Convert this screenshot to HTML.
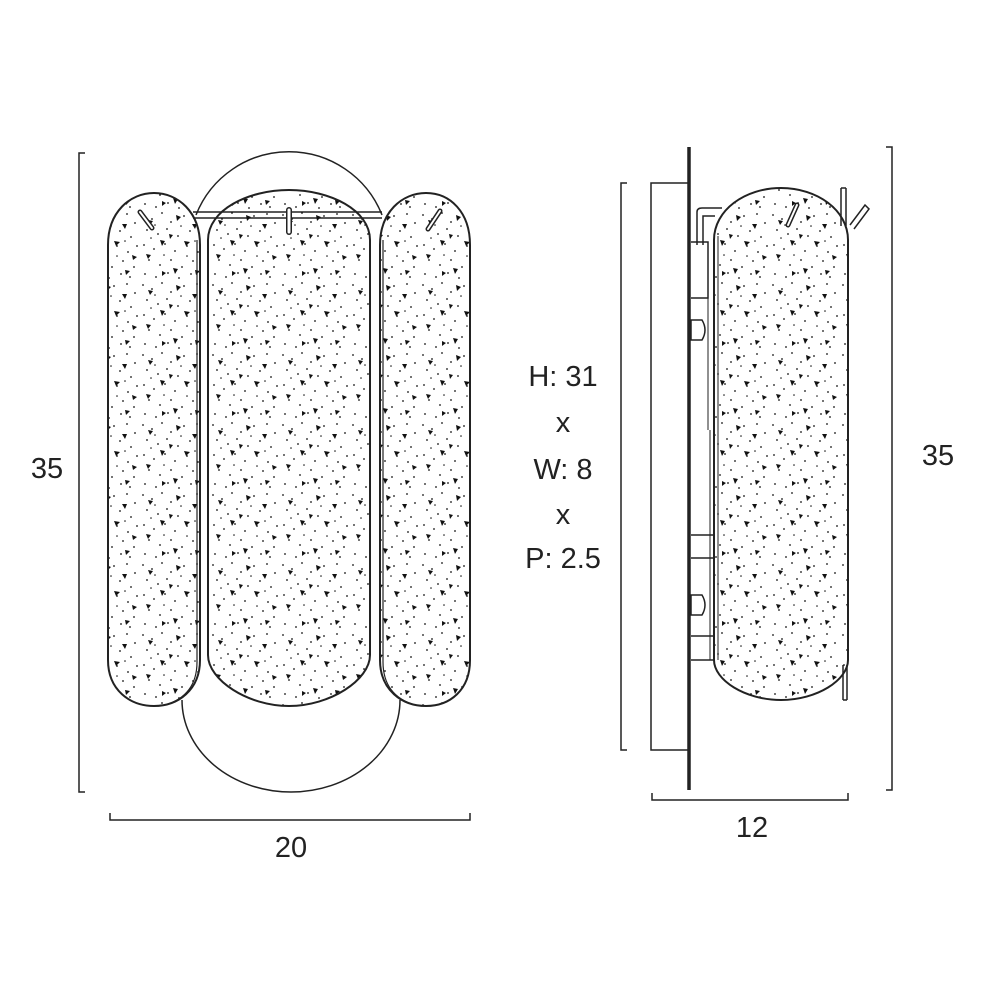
<!DOCTYPE html>
<html><head><meta charset="utf-8"><style>
html,body{margin:0;padding:0;background:#fff;width:1000px;height:1000px;overflow:hidden}
text{font-family:"Liberation Sans",sans-serif;fill:#222}
</style></head><body>
<svg width="1000" height="1000" viewBox="0 0 1000 1000" xmlns="http://www.w3.org/2000/svg">
<defs>
<pattern id="sp" width="70" height="70" patternUnits="userSpaceOnUse">
<g fill="#111">
<circle cx="3" cy="5" r="0.9"/><circle cx="12" cy="9" r="0.9"/><circle cx="22" cy="3" r="0.9"/><circle cx="31" cy="12" r="0.9"/><circle cx="44" cy="6" r="0.9"/><circle cx="57" cy="4" r="0.9"/><circle cx="65" cy="13" r="0.9"/>
<circle cx="7" cy="20" r="0.9"/><circle cx="18" cy="24" r="0.9"/><circle cx="27" cy="19" r="0.9"/><circle cx="38" cy="26" r="0.9"/><circle cx="50" cy="21" r="0.9"/><circle cx="61" cy="27" r="0.9"/>
<circle cx="4" cy="35" r="0.9"/><circle cx="14" cy="39" r="0.9"/><circle cx="25" cy="34" r="0.9"/><circle cx="35" cy="41" r="0.9"/><circle cx="47" cy="36" r="0.9"/><circle cx="58" cy="42" r="0.9"/><circle cx="67" cy="36" r="0.9"/>
<circle cx="9" cy="50" r="0.9"/><circle cx="20" cy="55" r="0.9"/><circle cx="31" cy="50" r="0.9"/><circle cx="42" cy="57" r="0.9"/><circle cx="53" cy="51" r="0.9"/><circle cx="64" cy="57" r="0.9"/>
<circle cx="5" cy="64" r="0.9"/><circle cx="16" cy="67" r="0.9"/><circle cx="28" cy="63" r="0.9"/><circle cx="39" cy="68" r="0.9"/><circle cx="51" cy="64" r="0.9"/><circle cx="60" cy="67" r="0.9"/>
<circle cx="15" cy="15" r="0.8"/><circle cx="41" cy="16" r="0.8"/><circle cx="55" cy="31" r="0.8"/><circle cx="24" cy="45" r="0.8"/><circle cx="47" cy="46" r="0.8"/><circle cx="11" cy="28" r="0.8"/>
<path d="M8 10l5 1-3 4z"/><path d="M36 5l5 2-4 4z"/><path d="M52 14l5 0-2 5z"/><path d="M20 30l5 1-3 5z"/><path d="M44 31l6 1-4 4z"/><path d="M62 45l5 2-4 3z"/><path d="M6 44l5 1-3 4z"/><path d="M33 58l5 1-3 5z"/><path d="M55 60l5 1-4 4z"/><path d="M22 61l4 2-4 3z"/><path d="M29 24l4 1-3 4z"/>
</g>
</pattern>
</defs>
<g fill="none" stroke="#222" stroke-width="1.5">
<path d="M85 153H79V792H85"/>
<path d="M110 813V820H470V813"/>
<path d="M196 215A100 100 0 0 1 382 215"/>
<path d="M182 700A109 92 0 0 0 400 700"/>
<path d="M193 212H382M193 218H382"/>
<path d="M108 660V245C108 212 130 193 154 193C178 193 200 212 200 245V660C200 690 178 706 154 706C130 706 108 690 108 660Z" fill="url(#sp)" stroke-width="2"/>
<path d="M197 240V662C197 688 182 700 165 705" stroke-width="1.2"/>
<path d="M208 655V240C208 210 248 190 289 190C330 190 370 210 370 240V655C370 680 330 706 289 706C248 706 208 680 208 655Z" fill="url(#sp)" stroke-width="2"/>
<path d="M380 660V245C380 212 402 193 426 193C450 193 470 212 470 245V660C470 690 450 706 426 706C402 706 380 690 380 660Z" fill="url(#sp)" stroke-width="2"/>
<path d="M383 240V662C383 688 398 700 415 705" stroke-width="1.2"/>
<path d="M140 212L152 228" stroke-width="5" stroke-linecap="round"/>
<path d="M140 212L152 228" stroke="#fff" stroke-width="2" stroke-linecap="round"/>
<path d="M289 210V232" stroke-width="6" stroke-linecap="round"/>
<path d="M289 210V232" stroke="#fff" stroke-width="3" stroke-linecap="round"/>
<path d="M440 211L428 229" stroke-width="5" stroke-linecap="round"/>
<path d="M440 211L428 229" stroke="#fff" stroke-width="2" stroke-linecap="round"/>
<path d="M627 183H621V750H627"/>
<path d="M886 147H892V790H886"/>
<path d="M652 793V800H848V793"/>
<path d="M689 147V790" stroke-width="3.5"/>
<path d="M688 183H651V750H688"/>
<path d="M697 245V212Q697 208 702 208H722M703 245V216H715"/>
<path d="M691 242H708V298H691"/>
<path d="M691 320H702Q708 330 702 340H691Z"/>
<path d="M691 535H714M691 558H714"/>
<path d="M691 595H702Q708 605 702 615H691Z"/>
<path d="M691 636H714M691 660H714"/>
<path d="M708 298V430M710 430V660" stroke-width="1"/>
<path d="M714 660V240C714 210 745 188 781 188C817 188 848 210 848 240V660C848 680 817 700 781 700C745 700 714 680 714 660Z" fill="url(#sp)" stroke-width="2"/>
<path d="M718 236V660" stroke-width="1"/>
<path d="M841 188V226M846 188V226" stroke-width="1.5"/>
<path d="M841 188H846"/>
<path d="M843 665V700M847 665V700"/>
<path d="M843 700H847"/>
<path d="M850 225L865 205L869 209L854 229" stroke-width="1.5"/>
<path d="M797 205L788 225" stroke-width="5" stroke-linecap="round"/>
<path d="M797 205L788 225" stroke="#fff" stroke-width="2" stroke-linecap="round"/>
</g>
<g font-size="29" text-anchor="middle">
<text x="47" y="478">35</text>
<text x="291" y="857">20</text>
<text x="938" y="465">35</text>
<text x="752" y="837">12</text>
<text x="563" y="386">H: 31</text>
<text x="563" y="432">x</text>
<text x="563" y="479">W: 8</text>
<text x="563" y="524">x</text>
<text x="563" y="568">P: 2.5</text>
</g>
</svg>
</body></html>
